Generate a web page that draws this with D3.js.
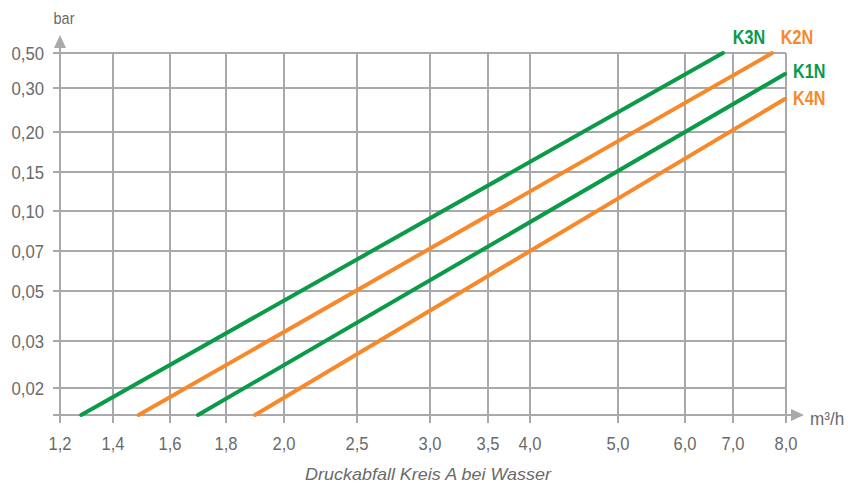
<!DOCTYPE html>
<html>
<head>
<meta charset="utf-8">
<script src="https://cdn.jsdelivr.net/npm/d3@7"></script>
<style>
  html, body { margin: 0; padding: 0; background: #fff; }
  svg { display: block; }
  text { font-family: "Liberation Sans", Arial, sans-serif; }
</style>
</head>
<body>
<div id="chart"></div>
<script>
// ---- data ----
const xTicks = [1.2, 1.4, 1.6, 1.8, 2.0, 2.5, 3.0, 3.5, 4.0, 5.0, 6.0, 7.0, 8.0];
const xTickLabels = ["1,2", "1,4", "1,6", "1,8", "2,0", "2,5", "3,0", "3,5", "4,0", "5,0", "6,0", "7,0", "8,0"];
const yMin = 0.015;
const yTicks = [0.02, 0.03, 0.05, 0.07, 0.10, 0.15, 0.20, 0.30, 0.50];
const yTickLabels = ["0,02", "0,03", "0,05", "0,07", "0,10", "0,15", "0,20", "0,30", "0,50"];
const seriesNames = ["K3N", "K2N", "K1N", "K4N"];
const flowStart = [1.28, 1.49, 1.70, 1.90];
const dropStart = [0.015, 0.015, 0.015, 0.015];
const flowEnd = [6.79, 7.74, 7.98, 7.98];
const dropEnd = [0.50, 0.50, 0.38, 0.275];
const seriesColors = ["#0a9a48", "#f7892b", "#0a9a48", "#f7892b"];
const xTitle = "m³/h";
const yTitle = "bar";
const caption = "Druckabfall Kreis A bei Wasser";

// ---- layout ----
const W = 848, H = 489;
const gridColor = "#a9a9ac";
const textColor = "#6a6a6a";

// the chart's axes are non-uniform: piecewise scales through the grid positions
const xPix = [60, 113, 170, 226, 284, 357, 430, 488, 530, 618, 685, 733, 786];
const yPix = [415, 388, 341, 291, 251, 211, 172, 132, 88, 53];
const x = d3.scaleLinear().domain(xTicks).range(xPix);
const y = d3.scaleLinear().domain([yMin].concat(yTicks)).range(yPix);

const svg = d3.select("#chart").append("svg").attr("width", W).attr("height", H);

const x0 = x(xTicks[0]), x1 = x(xTicks[xTicks.length - 1]);
const yBot = y(yMin), yTop = y(yTicks[yTicks.length - 1]);

// horizontal grid lines (with small tick to the left)
svg.append("g").selectAll("line").data(yTicks).join("line")
  .attr("x1", x0 - 7).attr("x2", x1)
  .attr("y1", d => y(d)).attr("y2", d => y(d))
  .attr("stroke", gridColor).attr("stroke-width", 2);

// vertical grid lines (with small tick below)
svg.append("g").selectAll("line").data(xTicks.slice(1)).join("line")
  .attr("x1", d => x(d)).attr("x2", d => x(d))
  .attr("y1", yTop).attr("y2", yBot + 8)
  .attr("stroke", gridColor).attr("stroke-width", 2);

// y axis with arrow
svg.append("line").attr("x1", x0).attr("x2", x0).attr("y1", yBot + 8).attr("y2", 44)
  .attr("stroke", gridColor).attr("stroke-width", 2);
svg.append("path").attr("d", `M${x0 - 6},${48} L${x0},${35} L${x0 + 6},${48} Z`).attr("fill", gridColor);
svg.append("line").attr("x1", x0 - 7).attr("x2", x0).attr("y1", yBot).attr("y2", yBot)
  .attr("stroke", gridColor).attr("stroke-width", 2);

// x axis with arrow
svg.append("line").attr("x1", x0).attr("x2", 794).attr("y1", yBot).attr("y2", yBot)
  .attr("stroke", gridColor).attr("stroke-width", 2);
svg.append("path").attr("d", `M${791},${yBot - 6} L${804},${yBot} L${791},${yBot + 6} Z`).attr("fill", gridColor);

// helper: condensed text
function place(sel, px, py, sx) {
  return sel.attr("transform", (d, i) => `translate(${px(d, i)},${py(d, i)}) scale(${sx},1)`);
}

// tick labels
place(svg.append("g").selectAll("text").data(yTicks).join("text"),
      () => x0 - 16, d => y(d) + 6.8, 0.88)
  .attr("text-anchor", "end").attr("fill", textColor).attr("font-size", 19)
  .text((d, i) => yTickLabels[i]);
place(svg.append("g").selectAll("text").data(xTicks).join("text"),
      d => x(d), () => 450, 0.92)
  .attr("text-anchor", "middle").attr("fill", textColor).attr("font-size", 18)
  .text((d, i) => xTickLabels[i]);

// axis titles
svg.append("text").attr("transform", "translate(64,24) scale(0.85,1)").attr("text-anchor", "middle")
  .attr("fill", textColor).attr("font-size", 17).text(yTitle);
svg.append("text").attr("transform", "translate(810,425) scale(0.95,1)").attr("text-anchor", "start")
  .attr("fill", textColor).attr("font-size", 18).text(xTitle);
svg.append("text").attr("x", 428).attr("y", 480).attr("text-anchor", "middle")
  .attr("textLength", 246).attr("lengthAdjust", "spacingAndGlyphs")
  .attr("fill", textColor).attr("font-size", 17).attr("font-style", "italic").text(caption);

// series lines
const line = d3.line().x(d => x(d[0])).y(d => y(d[1]));
svg.append("g").selectAll("path").data(seriesNames).join("path")
  .attr("d", (d, i) => line([[flowStart[i], dropStart[i]], [flowEnd[i], dropEnd[i]]]))
  .attr("fill", "none").attr("stroke", (d, i) => seriesColors[i])
  .attr("stroke-width", 4).attr("stroke-linecap", "round");

// series labels
const labelPos = [[749, 44, "middle"], [797, 44, "middle"], [793, 78, "start"], [793, 105, "start"]];
place(svg.append("g").selectAll("text").data(seriesNames).join("text"),
      (d, i) => labelPos[i][0], (d, i) => labelPos[i][1], 0.83)
  .attr("text-anchor", (d, i) => labelPos[i][2])
  .attr("fill", (d, i) => seriesColors[i]).attr("font-size", 19.5).attr("font-weight", "bold")
  .text(d => d);
</script>
</body>
</html>
